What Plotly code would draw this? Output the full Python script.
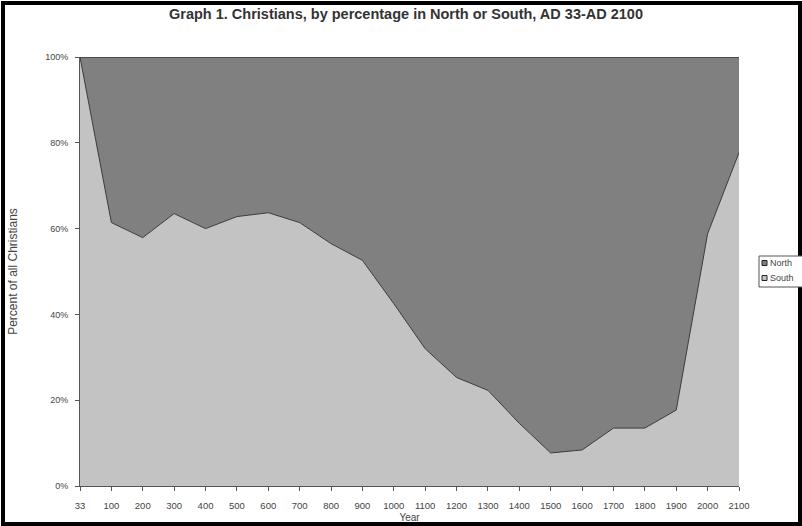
import plotly.graph_objects as go

years = ["33", "100", "200", "300", "400", "500", "600", "700", "800", "900", "1000",
         "1100", "1200", "1300", "1400", "1500", "1600", "1700", "1800", "1900", "2000", "2100"]
south = [100, 61.4, 57.9, 63.5, 60.0, 62.8, 63.7, 61.4, 56.5, 52.6, 42.5,
         32.0, 25.3, 22.3, 14.6, 7.7, 8.4, 13.5, 13.5, 17.7, 58.8, 77.7]
north = [round(100 - s, 1) for s in south]
y_ticks = [0, 20, 40, 60, 80, 100]
y_labels = ["0%", "20%", "40%", "60%", "80%", "100%"]
legend_names = ["North", "South"]

W, H = 802, 526
L, R, T, B = 80, 63, 57, 40
pw, ph = W - L - R, H - T - B

SOUTH_C = "#c3c3c3"
NORTH_C = "#808080"

fig = go.Figure()
fig.add_trace(go.Scatter(x=years, y=south, name="South", stackgroup="one", mode="lines",
                         line=dict(color="#3a3a3a", width=1), fillcolor=SOUTH_C,
                         showlegend=False, hoverinfo="skip"))
fig.add_trace(go.Scatter(x=years, y=north, name="North", stackgroup="one", mode="lines",
                         line=dict(color="#3a3a3a", width=1.5), fillcolor=NORTH_C,
                         showlegend=False, hoverinfo="skip"))

def px(xp):
    return (xp - L) / pw

def py(yp):
    return (H - B - yp) / ph

# outer frame
fig.add_shape(type="rect", xref="paper", yref="paper",
              x0=px(3), x1=px(800), y0=py(524), y1=py(3),
              line=dict(color="black", width=4), fillcolor="rgba(0,0,0,0)", layer="above")

# manual legend (cut off at right edge like the original)
fig.add_shape(type="rect", xref="paper", yref="paper",
              x0=px(759), x1=px(812), y0=py(287), y1=py(256),
              line=dict(color="#555", width=1), fillcolor="white", layer="above")
for i, (nm, col) in enumerate(zip(legend_names, [NORTH_C, SOUTH_C])):
    yc = 263 + i * 15
    fig.add_shape(type="rect", xref="paper", yref="paper",
                  x0=px(762), x1=px(767), y0=py(yc + 2.5), y1=py(yc - 2.5),
                  line=dict(color="#222", width=1), fillcolor=col, layer="above")
    fig.add_annotation(text=nm, xref="paper", yref="paper", x=px(768), y=py(yc),
                       xanchor="left", yanchor="middle", showarrow=False,
                       font=dict(size=9, color="#444"))

fig.update_layout(
    width=W, height=H,
    margin=dict(l=L, r=R, t=T, b=B, autoexpand=False),
    paper_bgcolor="white", plot_bgcolor="white",
    font=dict(family="Liberation Sans, Arial", size=9, color="#444"),
    title=dict(text="<b>Graph 1. Christians, by percentage in North or South, AD 33-AD 2100</b>",
               x=406 / W, xanchor="center", y=1 - 14 / H, yanchor="middle",
               font=dict(size=14.5, color="#333")),
    showlegend=False,
    xaxis=dict(type="category", range=[0, len(years) - 1], showline=True, linecolor="#555",
               ticks="outside", ticklen=4, tickcolor="#555", showgrid=False,
               ticklabelstandoff=7,
               title=dict(text="Year", standoff=3, font=dict(size=10)), tickangle=0,
               tickfont=dict(size=9.5)),
    yaxis=dict(range=[0, 100], tickvals=y_ticks, ticktext=y_labels,
               showline=True, linecolor="#555", ticks="outside", ticklen=4, tickcolor="#555",
               ticklabelstandoff=5,
               showgrid=False, title=dict(text="Percent of all Christians", standoff=24,
                                           font=dict(size=12)),
               tickfont=dict(size=9)),
)

fig.write_html("out.html", config={"displayModeBar": False},
               post_script="document.body.style.margin='0px';")
